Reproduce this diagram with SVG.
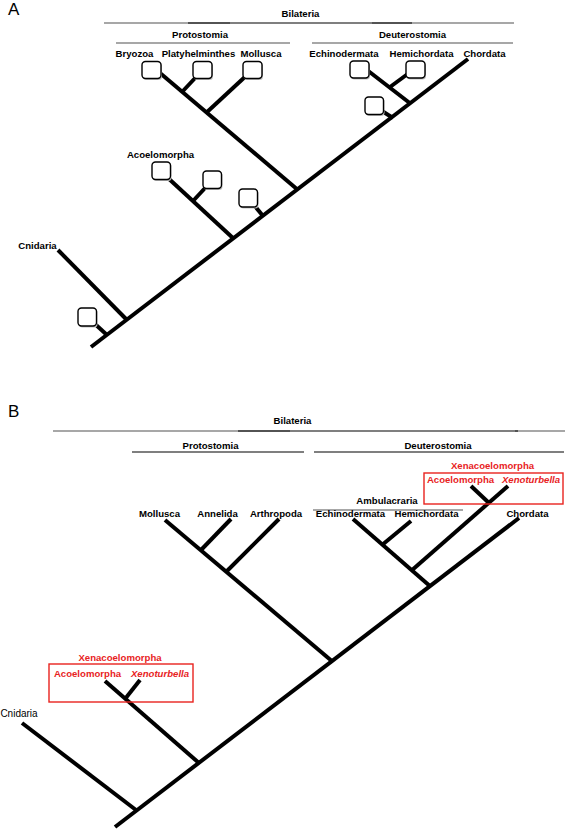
<svg xmlns="http://www.w3.org/2000/svg" width="567" height="829" viewBox="0 0 567 829">
<style>
text{font-family:"Liberation Sans",Arial,sans-serif;font-size:9.6px;font-weight:bold;fill:#000;text-anchor:middle}
.panel{font-size:17px;font-weight:normal;text-anchor:start}
.red{fill:#e8231e}
.it{font-style:italic}
.reg{font-weight:normal;font-size:10px}
.br{stroke:#000;stroke-width:4;stroke-linecap:butt;fill:none}
.bar{stroke:#000;stroke-width:1.2}
.gbar{stroke:#8a8a8a;stroke-width:1.4}
.box{fill:#fff;stroke:#000;stroke-width:1.4}
.sh{fill:#bdbdbd}
.rbox{fill:none;stroke:#e8231e;stroke-width:1.4}
</style>
<rect width="567" height="829" fill="#fff"/>

<!-- Panel A -->
<text class="panel" x="8" y="15">A</text>

<g id="A-connectors">
<line class="br" x1="91" y1="347" x2="468" y2="59"/>
<line class="br" x1="58" y1="250" x2="127" y2="320"/>
<line class="br" x1="95" y1="324" x2="107" y2="335"/>
<line class="br" x1="168" y1="178" x2="234" y2="239"/>
<line class="br" x1="193" y1="201" x2="206" y2="187"/>
<line class="br" x1="254" y1="205" x2="263" y2="216"/>
<line class="br" x1="160" y1="73" x2="298" y2="190"/>
<line class="br" x1="182" y1="92" x2="197" y2="76"/>
<line class="br" x1="206" y1="113" x2="247" y2="75"/>
<line class="br" x1="367" y1="70" x2="411" y2="104"/>
<line class="br" x1="390" y1="87" x2="409" y2="73"/>
<line class="br" x1="382" y1="111" x2="393" y2="118"/>
</g>

<g id="A-Bilateria">
<line class="gbar" x1="104" y1="23" x2="230" y2="23"/>
<line class="gbar" x1="372" y1="23" x2="514" y2="23"/>
<line class="bar" x1="188" y1="23" x2="412" y2="23"/>
<text x="300.5" y="17">Bilateria</text>
</g>
<g id="A-Protostomia">
<line class="gbar" x1="116" y1="43" x2="290" y2="43"/>
<text x="200" y="38">Protostomia</text>
</g>
<g id="A-Deuterostomia">
<line class="gbar" x1="312" y1="43" x2="513" y2="43"/>
<text x="412.5" y="38">Deuterostomia</text>
</g>

<g id="A-Bryozoa"><text x="134.5" y="56.5">Bryozoa</text>
<rect class="sh" x="143" y="62.5" width="19" height="17.5" rx="3.5"/><rect class="box" x="142" y="61.5" width="19" height="17" rx="3.5"/></g>
<g id="A-Platyhelminthes"><text x="198.5" y="56.5">Platyhelminthes</text>
<rect class="sh" x="194" y="62.5" width="19" height="17.5" rx="3.5"/><rect class="box" x="193" y="61.5" width="19" height="17" rx="3.5"/></g>
<g id="A-Mollusca"><text x="261" y="56.5">Mollusca</text>
<rect class="sh" x="244" y="62.5" width="19" height="17.5" rx="3.5"/><rect class="box" x="243" y="61.5" width="19" height="17" rx="3.5"/></g>
<g id="A-Echinodermata"><text x="344" y="56.5">Echinodermata</text>
<rect class="sh" x="351" y="62" width="19" height="17.5" rx="3.5"/><rect class="box" x="350" y="61" width="19" height="17" rx="3.5"/></g>
<g id="A-Hemichordata"><text x="421.5" y="56.5">Hemichordata</text>
<rect class="sh" x="407" y="62" width="19" height="17.5" rx="3.5"/><rect class="box" x="406" y="61" width="19" height="17" rx="3.5"/></g>
<g id="A-Chordata"><text x="484.5" y="56.5">Chordata</text></g>
<g id="A-box-deut"><rect class="sh" x="366" y="98" width="18.5" height="18" rx="3.5"/><rect class="box" x="365" y="97" width="18.5" height="17.5" rx="3.5"/></g>
<g id="A-Acoelomorpha"><text x="160.5" y="158">Acoelomorpha</text>
<rect class="sh" x="153" y="163" width="18.5" height="18" rx="3.5"/><rect class="box" x="152" y="162" width="18.5" height="17.5" rx="3.5"/></g>
<g id="A-box-acoel2"><rect class="sh" x="204" y="172" width="18.5" height="18" rx="3.5"/><rect class="box" x="203" y="171" width="18.5" height="17.5" rx="3.5"/></g>
<g id="A-box-trunk"><rect class="sh" x="240" y="190" width="18.5" height="18.5" rx="3.5"/><rect class="box" x="239" y="189" width="18.5" height="18" rx="3.5"/></g>
<g id="A-Cnidaria"><text x="37.5" y="249">Cnidaria</text></g>
<g id="A-box-root"><rect class="sh" x="79" y="309" width="18.5" height="18.5" rx="3.5"/><rect class="box" x="78" y="308" width="18.5" height="18" rx="3.5"/></g>

<!-- Panel B -->
<text class="panel" x="8" y="417">B</text>

<g id="B-connectors">
<line class="br" x1="115" y1="827" x2="519" y2="518"/>
<line class="br" x1="22" y1="723" x2="136" y2="810"/>
<line class="br" x1="105" y1="681" x2="199" y2="763"/>
<line class="br" x1="125" y1="699" x2="140" y2="680"/>
<line class="br" x1="165" y1="520" x2="333" y2="662"/>
<line class="br" x1="201" y1="550" x2="231" y2="519"/>
<line class="br" x1="226" y1="572" x2="279" y2="519"/>
<line class="br" x1="353" y1="519" x2="431" y2="587"/>
<line class="br" x1="382" y1="545" x2="411" y2="521"/>
<line class="br" x1="411" y1="571" x2="508" y2="486"/>
<line class="br" x1="471" y1="486" x2="489" y2="503"/>
</g>

<g id="B-Bilateria">
<line class="gbar" x1="53" y1="431" x2="290" y2="431"/>
<line class="gbar" x1="515" y1="431" x2="565" y2="431"/>
<line class="bar" x1="238" y1="431" x2="518" y2="431"/>
<text x="292.5" y="424">Bilateria</text>
</g>
<g id="B-Protostomia">
<line class="bar" x1="132" y1="452" x2="304" y2="452"/>
<text x="210.5" y="449">Protostomia</text>
</g>
<g id="B-Deuterostomia">
<line class="bar" x1="314" y1="452" x2="564" y2="452"/>
<text x="438" y="449">Deuterostomia</text>
</g>
<g id="B-Ambulacraria">
<line class="gbar" x1="313" y1="510" x2="463" y2="510"/>
<text x="387" y="504">Ambulacraria</text>
</g>
<g id="B-Mollusca"><text x="159.5" y="517">Mollusca</text></g>
<g id="B-Annelida"><text x="217.5" y="517">Annelida</text></g>
<g id="B-Arthropoda"><text x="276" y="517">Arthropoda</text></g>
<g id="B-Echinodermata"><text x="350.5" y="517">Echinodermata</text></g>
<g id="B-Hemichordata"><text x="426.5" y="517">Hemichordata</text></g>
<g id="B-Chordata"><text x="527.5" y="517">Chordata</text></g>

<g id="B-Xenacoelomorpha-deut">
<rect class="rbox" x="424" y="473" width="139" height="31"/>
<text class="red" x="492.5" y="469">Xenacoelomorpha</text>
<text class="red" x="460.5" y="483">Acoelomorpha</text>
<text class="red it" x="531" y="483">Xenoturbella</text>
</g>
<g id="B-Xenacoelomorpha-base">
<rect class="rbox" x="49" y="664" width="144" height="38"/>
<text class="red" x="120" y="661">Xenacoelomorpha</text>
<text class="red" x="87.5" y="677">Acoelomorpha</text>
<text class="red it" x="160" y="677">Xenoturbella</text>
</g>
<g id="B-Cnidaria"><text class="reg" x="19" y="717">Cnidaria</text></g>
</svg>
